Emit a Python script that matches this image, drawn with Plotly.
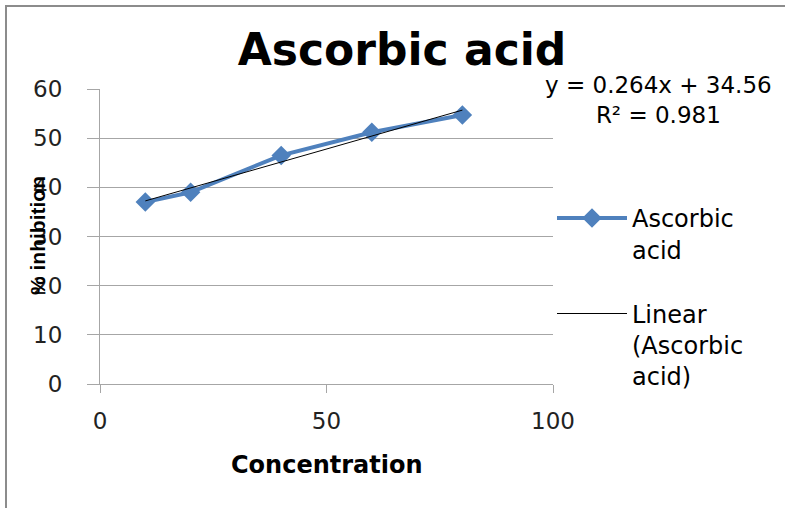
import numpy as np
import plotly.graph_objects as go

concentration = [10, 20, 40, 60, 80]
inhibition = [37.0, 39.0, 46.5, 51.2, 54.7]
x_ticks = [0, 50, 100]
y_ticks = [0, 10, 20, 30, 40, 50, 60]

slope, intercept = np.polyfit(concentration, inhibition, 1)
trend_x = [min(concentration), max(concentration)]
trend_y = [slope * v + intercept for v in trend_x]

fig = go.Figure()
fig.add_trace(go.Scatter(
    x=concentration, y=inhibition, mode="lines+markers",
    name="Ascorbic<br>acid", legendgroup="a",
    line=dict(color="#4F81BD", width=4),
    marker=dict(symbol="diamond", size=15, color="#4F81BD"),
))
fig.add_trace(go.Scatter(
    x=trend_x, y=trend_y, mode="lines",
    name="Linear<br>(Ascorbic<br>acid)", legendgroup="b",
    line=dict(color="black", width=1),
))

L, R, T, B = 100, 232, 89, 124
pw, ph = 785 - L - R, 508 - T - B

def px(xp):
    return (xp - L) / pw

def py(yp):
    return (508 - B - yp) / ph

grid = "#A6A6A6"
fig.update_layout(
    width=785, height=508,
    margin=dict(l=L, r=R, t=T, b=B),
    paper_bgcolor="white", plot_bgcolor="white",
    font=dict(family="DejaVu Sans", color="black", size=22),
    title=dict(text="<b>Ascorbic acid</b>", x=402 / 785, xanchor="center",
               xref="container", y=1 - 50 / 508, yref="container", yanchor="middle",
               font=dict(family="DejaVu Sans", size=44, color="black")),
    showlegend=True,
    legend=dict(x=px(552), y=py(196), xanchor="left", yanchor="top",
                font=dict(family="DejaVu Sans", size=24, color="black"),
                valign="top", itemwidth=70, tracegroupgap=30,
                traceorder="grouped",
                bgcolor="rgba(0,0,0,0)"),
    xaxis=dict(range=[0, 100], tickvals=x_ticks, showgrid=False,
               showline=True, linecolor=grid, linewidth=1,
               ticks="outside", ticklen=8, tickcolor=grid,
               tickfont=dict(size=23, color="#222"), ticklabelstandoff=8,
               zeroline=False, fixedrange=True),
    yaxis=dict(range=[0, 60], tickvals=y_ticks, showgrid=True, gridcolor=grid,
               gridwidth=1, showline=True, linecolor=grid, linewidth=1,
               ticks="outside", ticklen=12, tickcolor=grid,
               tickfont=dict(size=23, color="#222"), ticklabelstandoff=20,
               zeroline=False, fixedrange=True),
)

def note(text, x, y, size, family="DejaVu Sans", angle=0):
    fig.add_annotation(text=text, xref="paper", yref="paper",
                       x=px(x), y=py(y), xanchor="center", yanchor="middle",
                       showarrow=False, textangle=angle, align="center",
                       font=dict(family=family, size=size, color="black"))

note("<b>Concentration</b>", 327, 465, 24)
note("<b>% inhibition</b>", 37, 236, 21, family="Liberation Sans", angle=-90)
note("y = 0.264x + 34.56<br>R² = 0.981", 658, 100, 23)

fig.add_shape(type="rect", xref="paper", yref="paper",
              x0=px(6), x1=px(900), y0=py(600), y1=py(6),
              line=dict(color="#8C8C8C", width=2), fillcolor="rgba(0,0,0,0)")

fig.write_html("out.html", config={"displayModeBar": False},
               post_script="document.body.style.margin='0';")
